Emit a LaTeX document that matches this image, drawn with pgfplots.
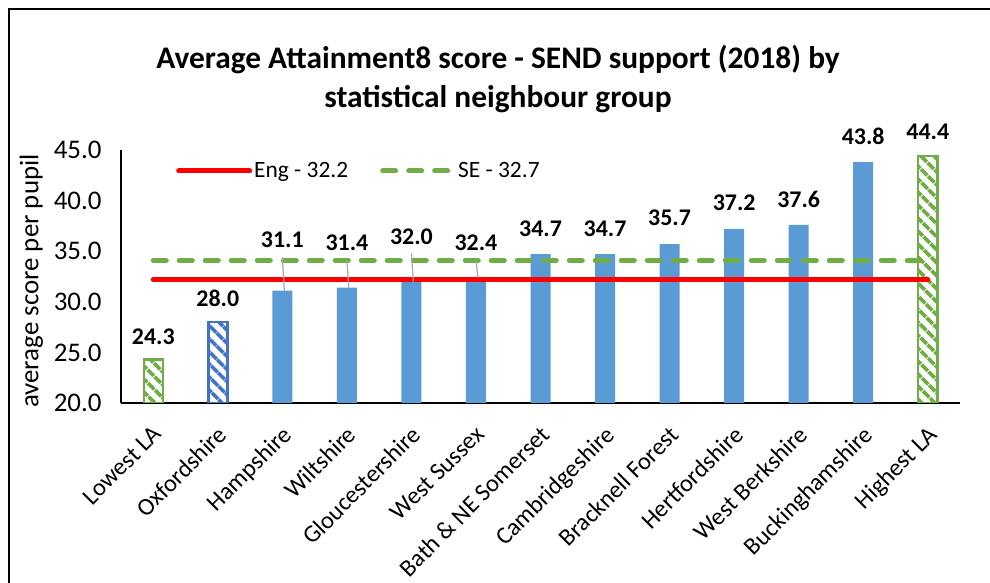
\documentclass[border=0pt]{standalone}
\usepackage{fontspec}
\setmainfont{Carlito}
\usepackage{pgfplots}
\usepackage{pgfplotstable}
\pgfplotsset{compat=1.18}
\usetikzlibrary{patterns.meta}
\definecolor{barblue}{HTML}{5B9BD5}
\definecolor{hatchblue}{HTML}{4472C4}
\definecolor{sgreen}{HTML}{70AD47}
\definecolor{leadgray}{HTML}{A6A6A6}

\pgfplotstableread{
x y
2 31.1
3 31.4
4 32.0
5 32.4
6 34.7
7 34.7
8 35.7
9 37.2
10 37.6
11 43.8
}\solidbars

\pgfplotstableread{
x y lab
0 26.5 24.3
1 30.3 28.0
2 36.1 31.1
3 35.8 31.4
4 36.4 32.0
5 35.8 32.4
6 37.2 34.7
7 37.2 34.7
8 38.3 35.7
9 39.8 37.2
10 40.1 37.6
11 46.3 43.8
12 46.8 44.4
}\labels

\begin{document}
\begin{tikzpicture}[x=1bp,y=1bp]
\path[use as bounding box] (0,0) rectangle (990,583);
\draw[line width=2.5bp] (9,-20) -- (9,574) -- (1010,574);
\node[font=\fontsize{31.5}{39}\selectfont\bfseries, align=center] at (498,504)
  {Average Attainment8 score - SEND support (2018) by\\statistical neighbour group};

\begin{axis}[
  at={(121bp,180bp)}, anchor=south west,
  scale only axis, width=839bp, height=253bp,
  xmin=-0.5, xmax=12.5, ymin=20, ymax=45,
  axis lines*=left,
  axis line style={line width=1.5bp, black},
  major tick length=0pt,
  ytick={20,25,30,35,40,45},
  yticklabel style={/pgf/number format/fixed, /pgf/number format/fixed zerofill, /pgf/number format/precision=1, /pgf/number format/assume math mode=true},
  every y tick label/.append style={font=\fontsize{27}{32}\selectfont, xshift=-16bp},
  xtick={0,...,12},
  xticklabels={Lowest LA, Oxfordshire, Hampshire, Wiltshire, Gloucestershire, West Sussex, Bath \& NE Somerset, Cambridgeshire, Bracknell Forest, Hertfordshire, West Berkshire, Buckinghamshire, Highest LA},
  every x tick label/.append style={font=\fontsize{24.5}{29}\selectfont, rotate=45, anchor=north east, inner sep=0pt, xshift=-16bp, yshift=-14bp},
  ylabel={average score per pupil},
  ylabel style={at={(axis description cs:-0.107,0.482)}, anchor=center, font=\fontsize{27}{32}\selectfont},
  legend columns=2,
  legend style={draw=none, fill=none, at={(rel axis cs:0.062,0.917)}, anchor=west,
    font=\fontsize{23.5}{28}\selectfont,
    /tikz/every even column/.append style={column sep=30bp}},
  legend image code/.code={\draw[#1] (0bp,0bp) -- (71bp,0bp);},
]
\addplot[ybar, bar width=20bp, bar shift=0pt, fill=barblue, draw=none, forget plot] table[x=x,y=y] {\solidbars};
\addplot[ybar, bar width=19bp, bar shift=0pt, draw=sgreen, line width=2.5bp,
  pattern={Lines[angle=-45,distance=9.5bp,line width=4bp]}, pattern color=sgreen, forget plot]
  coordinates {(0,24.3) (12,44.4)};
\addplot[ybar, bar width=19bp, bar shift=0pt, draw=hatchblue, line width=2.5bp,
  pattern={Lines[angle=-45,distance=9.5bp,line width=4bp]}, pattern color=hatchblue, forget plot]
  coordinates {(1,28.0)};
\addplot[red, line width=5bp, line cap=round, mark=none] coordinates {(0,32.2) (12,32.2)};
\addlegendentry{Eng - 32.2}
\addplot[sgreen, line width=5bp, line cap=round, dash pattern=on 13bp off 13bp, mark=none] coordinates {(0,34.1) (12,34.1)};
\addlegendentry{SE - 32.7}
\end{axis}

\begin{axis}[
  at={(121bp,180bp)}, anchor=south west,
  scale only axis, width=839bp, height=253bp,
  xmin=-0.5, xmax=12.5, ymin=20, ymax=45,
  axis lines=none, clip=false,
]
\addplot[leadgray, line width=1.2bp, mark=none] coordinates {(2,34.4) (2.03,31.1)};
\addplot[leadgray, line width=1.2bp, mark=none] coordinates {(3,34.1) (3.03,31.4)};
\addplot[leadgray, line width=1.2bp, mark=none] coordinates {(4,34.8) (4.03,32.0)};
\addplot[leadgray, line width=1.2bp, mark=none] coordinates {(5,34.1) (5.03,32.4)};
\addplot[draw=none, mark=none, nodes near coords, point meta=explicit symbolic,
  nodes near coords align=center,
  every node near coord/.append style={font=\fontsize{24}{29}\selectfont\bfseries, anchor=center, inner sep=0pt}]
  table[x=x,y=y,meta=lab] {\labels};
\end{axis}
\end{tikzpicture}
\end{document}
